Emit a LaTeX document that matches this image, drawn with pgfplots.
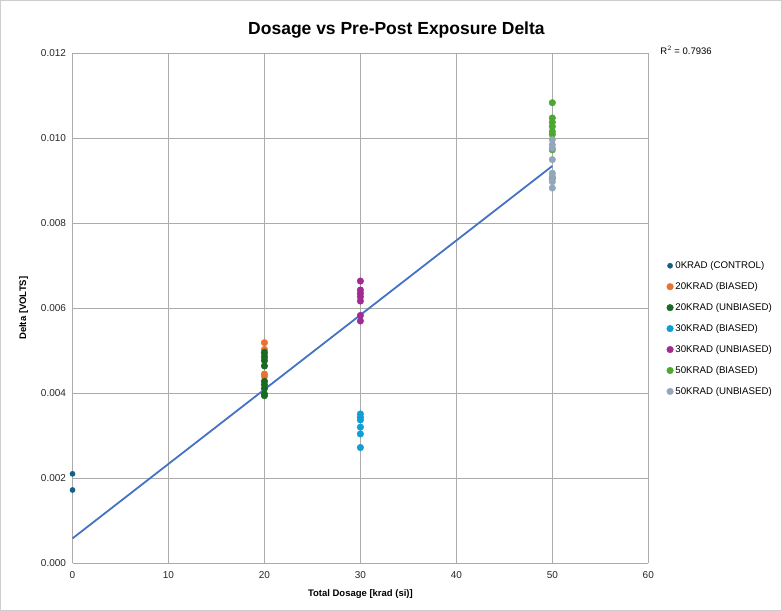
\documentclass[border=0pt]{standalone}
\usepackage{pgfplots}
\pgfplotsset{compat=1.18}
\usepackage{fontspec}
\setmainfont{Liberation Sans}
\definecolor{c0}{HTML}{156082}
\definecolor{c1}{HTML}{E97132}
\definecolor{c2}{HTML}{196B24}
\definecolor{c3}{HTML}{0F9ED5}
\definecolor{c4}{HTML}{A02B93}
\definecolor{c5}{HTML}{4EA72E}
\definecolor{c6}{HTML}{94A7BA}
\definecolor{trend}{HTML}{4472C4}
\definecolor{gridc}{HTML}{ABABAB}
\begin{document}
\begin{tikzpicture}
\path[draw=gridc!60, line width=0.6bp] (-72bp,-47bp) rectangle (707bp,561bp);
\begin{axis}[
  at={(0,0)}, anchor=south west,
  scale only axis, width=574bp, height=508bp,
  xmin=0, xmax=60, ymin=0, ymax=0.012,
  xtick={0,10,...,60}, ytick={0,0.002,...,0.012},
  grid=major, grid style={gridc, line width=0.7bp},
  axis line style={gridc, line width=0.7bp},
  axis x line*=bottom, axis y line*=left,
  tick style={gridc, line width=0.7bp}, major tick length=4bp,
  tick label style={font=\fontsize{10}{12}\selectfont, color=black!85},
  x tick label style={yshift=-5bp},
  /pgf/number format/assume math mode=true,
  y tick label style={xshift=-3bp, /pgf/number format/.cd, fixed, fixed zerofill, precision=3},
  scaled y ticks=false,
  xlabel={\textbf{Total Dosage [krad (si)]}},
  ylabel={\textbf{Delta [VOLTS]}},
  label style={font=\fontsize{9.5}{11}\selectfont},
  xlabel style={yshift=-4bp},
  ylabel style={yshift=6bp},
  title={\textbf{Dosage vs Pre-Post Exposure Delta}},
  title style={font=\fontsize{17.5}{20}\selectfont, yshift=6bp, xshift=36bp},
  clip=false,
  legend style={at={(1.030,0.598)}, anchor=north west, draw=none, fill=none,
    font=\fontsize{9.7}{11}\selectfont, row sep=8.4bp, inner sep=1bp},
  legend cell align=left,
  legend image code/.code={\draw[mark repeat=2,mark phase=2] plot coordinates {(0cm,0cm) (0.12cm,0cm) (0.24cm,0cm)};},
]
\addplot[only marks, mark=*, mark size=2.6bp, color=c0] coordinates {
(0,0.00210) (0,0.00172)};
\addlegendentry{0KRAD (CONTROL)}
\addplot[only marks, mark=*, mark size=3.3bp, color=c1] coordinates {
(20,0.00519) (20,0.00503) (20,0.00491) (20,0.00445) (20,0.00440)};
\addlegendentry{20KRAD (BIASED)}
\addplot[only marks, mark=*, mark size=3.3bp, color=c2] coordinates {
(20,0.00496) (20,0.00485) (20,0.00477) (20,0.00464) (20,0.00428) (20,0.00420) (20,0.00411) (20,0.00398) (20,0.00394)};
\addlegendentry{20KRAD (UNBIASED)}
\addplot[only marks, mark=*, mark size=3.3bp, color=c3] coordinates {
(30,0.00351) (30,0.00343) (30,0.00337) (30,0.00320) (30,0.00304) (30,0.00272)};
\addlegendentry{30KRAD (BIASED)}
\addplot[only marks, mark=*, mark size=3.3bp, color=c4] coordinates {
(30,0.00664) (30,0.00643) (30,0.00635) (30,0.00627) (30,0.00617) (30,0.00583) (30,0.00570)};
\addlegendentry{30KRAD (UNBIASED)}
\addplot[only marks, mark=*, mark size=3.3bp, color=c5] coordinates {
(50,0.01084) (50,0.01048) (50,0.01038) (50,0.01028) (50,0.01016) (50,0.01009) (50,0.00973) (50,0.00906)};
\addlegendentry{50KRAD (BIASED)}
\addplot[only marks, mark=*, mark size=3.3bp, color=c6] coordinates {
(50,0.00997) (50,0.00985) (50,0.00977) (50,0.00950) (50,0.00918) (50,0.00910) (50,0.00898) (50,0.00883)};
\addlegendentry{50KRAD (UNBIASED)}
\addplot[trend, line width=1.8bp, forget plot] coordinates {(0,0.00058) (50,0.00935)};
\node[anchor=west, font=\fontsize{9.5}{11}\selectfont] at (rel axis cs:1.015,1.006) {R$^2$ = 0.7936};
\end{axis}
\end{tikzpicture}
\end{document}
